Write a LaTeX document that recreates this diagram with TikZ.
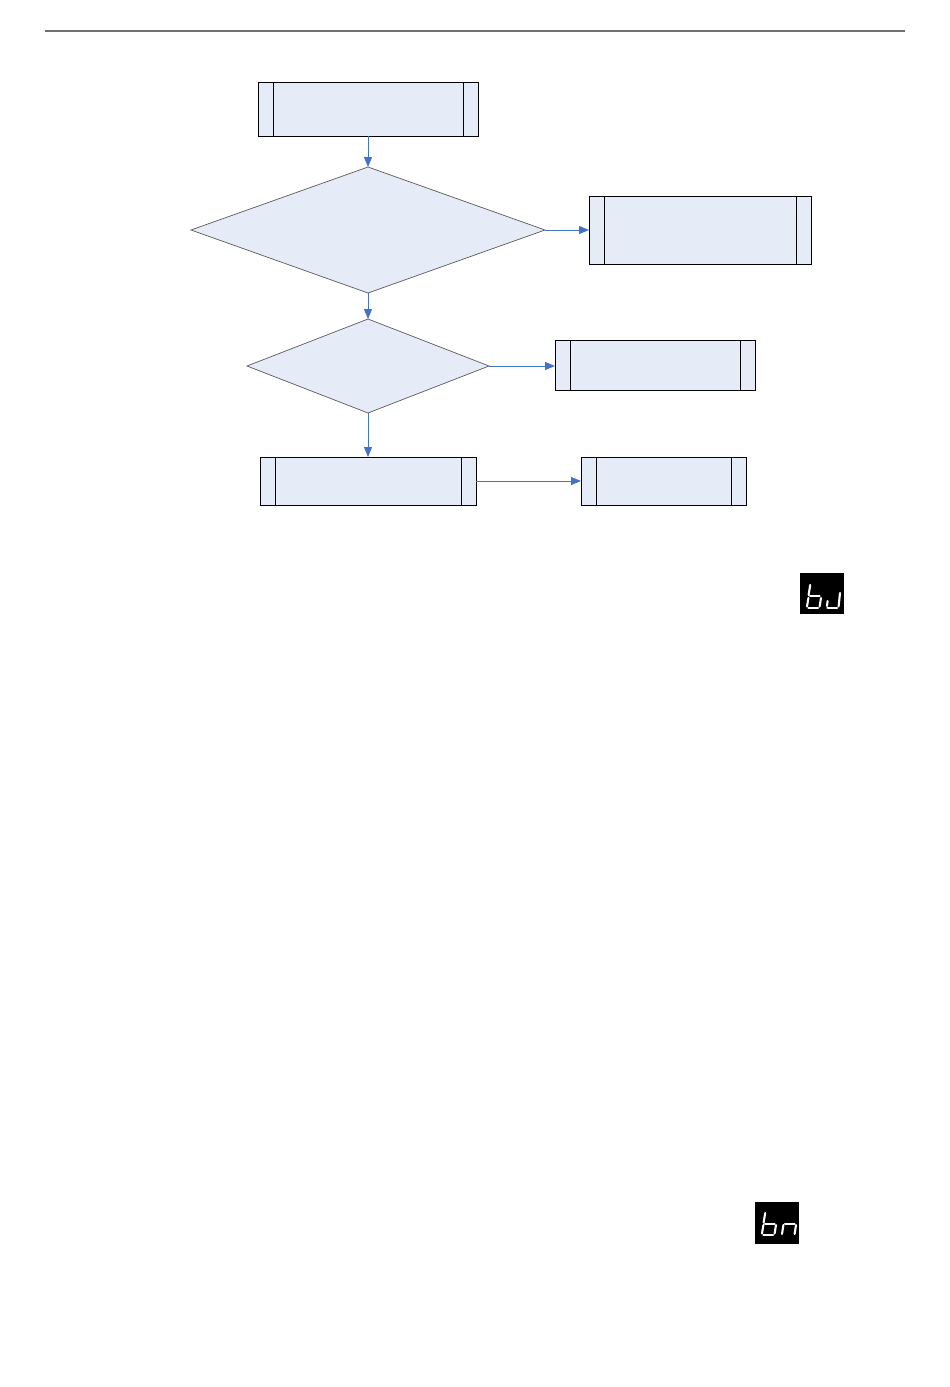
\documentclass[tikz,border=0pt]{standalone}
\usetikzlibrary{shapes.geometric,arrows.meta}
\definecolor{boxfill}{HTML}{E6ECF7}
\definecolor{arrowblue}{HTML}{4472C4}
\definecolor{rulegray}{HTML}{707070}
\definecolor{diagray}{HTML}{5A5A5A}
\tikzset{
  procbox/.style={rectangle, draw=black, line width=0.9pt, fill=boxfill, inner sep=0pt, outer sep=0pt,
    path picture={
      \draw[line width=0.9pt] ([xshift=15pt]path picture bounding box.north west) -- ([xshift=15pt]path picture bounding box.south west);
      \draw[line width=0.9pt] ([xshift=-15pt]path picture bounding box.north east) -- ([xshift=-15pt]path picture bounding box.south east);
    }},
  decision/.style={diamond, draw=diagray, line width=0.7pt, fill=boxfill, inner sep=0pt, outer sep=0pt},
  flow/.style={draw=arrowblue, line width=1pt, -{Triangle[length=10pt,width=8pt]}},
  seg/.style={draw=white, line width=2.1pt, line cap=round},
}
\begin{document}
\begin{tikzpicture}[x=1pt,y=-1pt]
\useasboundingbox (0,0) rectangle (950,1387);
\fill[white] (0,0) rectangle (950,1387);
% header rule
\draw[rulegray, line width=2pt] (45,31) -- (905,31);

% flowchart
\node[procbox, minimum width=220pt, minimum height=54pt] (b1) at (368,109) {};
\node[decision, minimum width=354pt, minimum height=126pt] (d1) at (368,230) {};
\node[procbox, minimum width=222pt, minimum height=68pt] (b2) at (700,230) {};
\node[decision, minimum width=242pt, minimum height=94pt] (d2) at (368,366) {};
\node[procbox, minimum width=200pt, minimum height=50pt] (b3) at (655,365) {};
\node[procbox, minimum width=216pt, minimum height=48pt] (b4) at (368,481) {};
\node[procbox, minimum width=165pt, minimum height=48pt] (b5) at (663.5,481) {};

\draw[flow] (b1.south) -- (d1.north);
\draw[flow] (d1.east) -- (b2.west);
\draw[flow] (d1.south) -- (d2.north);
\draw[flow] (d2.east) -- (d2.east -| b3.west);
\draw[flow] (d2.south) -- (b4.north);
\draw[flow] (b4.east) -- (b5.west);

% display icon "bJ"
\fill[black] (800,573) rectangle (844,614);
\draw[seg] (810.2,585) -- (808.6,595);
\draw[seg] (808.4,598) -- (807,606.5);
\draw[seg] (810,596) -- (819.5,596);
\draw[seg] (808.5,608) -- (818,608);
\draw[seg] (821,598) -- (819.6,606.5);
\draw[seg] (840,593) -- (838.6,606.5);
\draw[seg] (827.5,608) -- (837,608);
\draw[seg] (827.6,601) -- (827,606);

% display icon "bn"
\fill[black] (755,1202) rectangle (799,1244);
\draw[seg] (765.2,1213) -- (763.6,1222.5);
\draw[seg] (763.4,1225) -- (762,1233.5);
\draw[seg] (765,1224) -- (774.5,1224);
\draw[seg] (763.5,1235) -- (773,1235);
\draw[seg] (776,1225) -- (774.6,1233.5);
\draw[seg] (783.4,1225) -- (782,1234);
\draw[seg] (785,1224) -- (794.5,1224);
\draw[seg] (796,1225) -- (794.6,1234);
\end{tikzpicture}
\end{document}
